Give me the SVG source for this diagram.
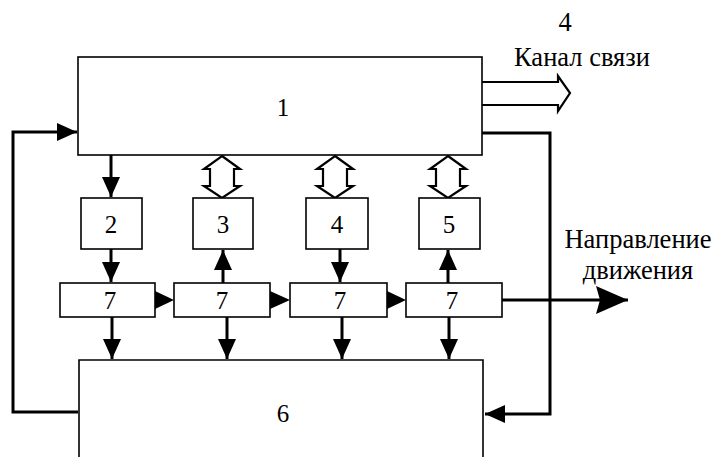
<svg xmlns="http://www.w3.org/2000/svg" width="715" height="457" viewBox="0 0 715 457">
<style>
.box{fill:#fff;stroke:#000;stroke-width:1.6}
.ln{fill:none;stroke:#000;stroke-width:3}
.t{font-family:"Liberation Serif","Times New Roman",serif;font-size:25px;fill:#000}
.l{font-size:26.5px}
.c{text-anchor:middle}
.dbl{fill:#fff;stroke:#000;stroke-width:2.2;stroke-linejoin:miter}
</style>
<defs>
<marker id="ah" markerUnits="userSpaceOnUse" markerWidth="20" markerHeight="18" refX="20" refY="9" orient="auto">
<path d="M0,0 L20,9 L0,18 Z" fill="#000"/>
</marker>
<marker id="big" markerUnits="userSpaceOnUse" markerWidth="32" markerHeight="28" refX="32" refY="14" orient="auto">
<path d="M0,0 L32,14 L0,28 L4,14 Z" fill="#000"/>
</marker>
</defs>
<g id="connectors">
<path class="ln" d="M78,412 H13 V132 H77" marker-end="url(#ah)"/>
<path class="ln" d="M482,133 H550 V414 H485" marker-end="url(#ah)"/>
<path class="dbl" d="M482,82 H558 V76 L570,93 L558,111 V105 H482"/>
<path class="ln" d="M111,155 V197" marker-end="url(#ah)"/>
<path class="ln" d="M111,249 V282" marker-end="url(#ah)"/>
<path class="ln" d="M223,283 V250" marker-end="url(#ah)"/>
<path class="ln" d="M340,249 V282" marker-end="url(#ah)"/>
<path class="ln" d="M448,283 V250" marker-end="url(#ah)"/>
<path d="M155,291 L174,300 L155,309 Z" fill="#000"/>
<path d="M270,291 L290,300 L270,309 Z" fill="#000"/>
<path d="M387,291 L406,300 L387,309 Z" fill="#000"/>
<path class="ln" d="M502,300 H628" stroke-width="4" marker-end="url(#big)"/>
<path class="ln" d="M112,317 V359" marker-end="url(#ah)"/>
<path class="ln" d="M227,317 V359" marker-end="url(#ah)"/>
<path class="ln" d="M342,317 V359" marker-end="url(#ah)"/>
<path class="ln" d="M449,317 V359" marker-end="url(#ah)"/>
<path class="dbl" d="M222,156 L240,169 H234 V186 H240 L222,198 L204,186 H210 V169 H204 Z"/>
<path class="dbl" d="M335,156 L353,169 H347 V186 H353 L335,198 L317,186 H323 V169 H317 Z"/>
<path class="dbl" d="M448,156 L466,169 H460 V186 H466 L448,198 L430,186 H436 V169 H430 Z"/>
</g>
<g id="n1"><rect class="box" x="78" y="57" width="404" height="98"/><text class="t c" x="283" y="116">1</text></g>
<g id="n2"><rect class="box" x="81" y="198" width="61" height="51"/><text class="t c" x="111" y="233">2</text></g>
<g id="n3"><rect class="box" x="193" y="198" width="60" height="51"/><text class="t c" x="223" y="233">3</text></g>
<g id="n4"><rect class="box" x="306" y="198" width="62" height="51"/><text class="t c" x="337" y="233">4</text></g>
<g id="n5"><rect class="box" x="419" y="198" width="61" height="51"/><text class="t c" x="449" y="233">5</text></g>
<g id="n7a"><rect class="box" x="60" y="283" width="95" height="34"/><text class="t c" x="110" y="309">7</text></g>
<g id="n7b"><rect class="box" x="174" y="283" width="96" height="34"/><text class="t c" x="222" y="309">7</text></g>
<g id="n7c"><rect class="box" x="290" y="283" width="97" height="34"/><text class="t c" x="340" y="309">7</text></g>
<g id="n7d"><rect class="box" x="406" y="283" width="96" height="34"/><text class="t c" x="452" y="309">7</text></g>
<g id="n6"><path class="box" d="M79,458 V360 H483 V458"/><text class="t c" x="283" y="422">6</text></g>
<g id="labels">
<text class="t l c" x="565" y="31">4</text>
<text class="t l c" x="582" y="66">Канал связи</text>
<text class="t l c" x="638" y="248">Направление</text>
<text class="t l c" x="638" y="279">движения</text>
</g>
</svg>
